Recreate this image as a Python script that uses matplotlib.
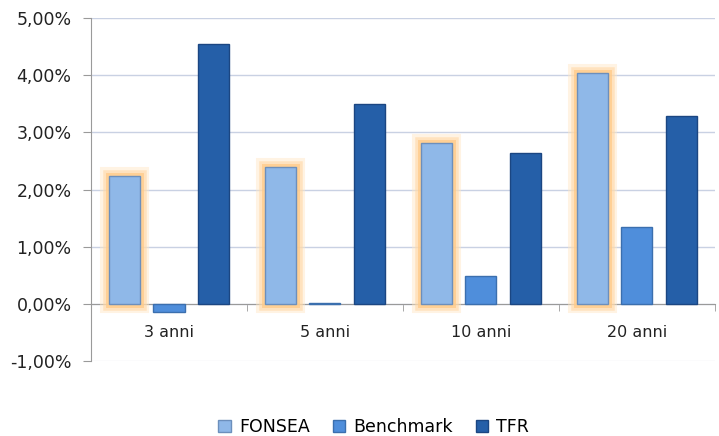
import matplotlib
matplotlib.use("Agg")
import matplotlib.pyplot as plt
import matplotlib.patheffects as pe
import numpy as np
from matplotlib.ticker import FuncFormatter

# ── Data ─────────────────────────────────────────────────────────────
categories = ["3 anni", "5 anni", "10 anni", "20 anni"]
fonsea = [2.23, 2.39, 2.81, 4.03]
benchmark = [-0.15, 0.02, 0.49, 1.34]
tfr = [4.55, 3.49, 2.64, 3.28]

series_names = ["FONSEA", "Benchmark", "TFR"]
colors = ["#8fb8e8", "#4f8edb", "#255fa8"]
edges = ["#6c8fbc", "#3b6fae", "#1b4682"]

fig = plt.figure(figsize=(7.19, 4.36), dpi=100, facecolor="white")
ax = fig.add_axes([0.1266, 0.172, 0.8674, 0.7866])

x = np.arange(len(categories))
offset = 0.285
width = 0.2

glow = [
    pe.Stroke(linewidth=13, foreground="#ffe6c2", alpha=0.45),
    pe.Stroke(linewidth=9, foreground="#ffd8a6", alpha=0.6),
    pe.Stroke(linewidth=5, foreground="#ffca88", alpha=0.75),
    pe.Normal(),
]

for i, (name, vals) in enumerate(zip(series_names, [fonsea, benchmark, tfr])):
    bars = ax.bar(x + (i - 1) * offset, vals, width, color=colors[i],
                  edgecolor=edges[i], linewidth=1.0, label=name, zorder=3)
    if i == 0:
        for b in bars:
            b.set_path_effects(glow)

ax.set_ylim(-1, 5)
ax.set_xlim(-0.5, len(categories) - 0.5)
ax.set_yticks(np.arange(-1, 5.01, 1))
ax.yaxis.set_major_formatter(FuncFormatter(lambda v, _: f"{v:.2f}%".replace(".", ",")))
ax.yaxis.grid(True, color="#c9d1e3", linewidth=1.0, zorder=0)
ax.yaxis.get_gridlines()[0].set_color("#eceef3")
ax.set_axisbelow(True)

# category axis crossing at zero
ax.spines["bottom"].set_position(("data", 0))
ax.spines["bottom"].set_color("#9a9a9a")
ax.spines["left"].set_color("#9a9a9a")
ax.spines[["top", "right"]].set_visible(False)

ax.set_xticks(x)
ax.set_xticklabels(categories)
ax.set_xticks(np.arange(-0.5, len(categories), 1), minor=True)
ax.tick_params(axis="x", which="major", length=0, pad=15, labelsize=11.5, colors="#222222")
ax.tick_params(axis="x", which="minor", length=5, color="#9a9a9a", direction="out")
ax.tick_params(axis="y", length=6, color="#9a9a9a", direction="out", labelsize=12.5,
               labelcolor="#222222", pad=8)

leg = ax.legend(loc="center", bbox_to_anchor=(0.52, 0.02), bbox_transform=fig.transFigure,
                ncol=3, frameon=False, fontsize=12.5, handlelength=0.7, handleheight=0.7,
                columnspacing=1.3, handletextpad=0.5, borderpad=0.1)
for h in leg.legend_handles:
    h.set_path_effects([])

fig.savefig("out.png", dpi=100, facecolor="white")
